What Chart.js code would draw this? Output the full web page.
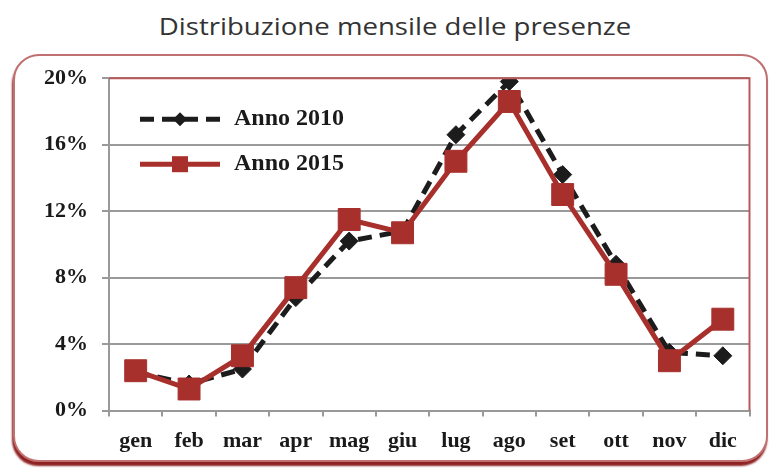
<!doctype html>
<html lang="it">
  <head>
    <title>Distribuzione mensile delle presenze</title>
    <style>
      body{
        margin: 0;
        background: #fff;
        width: 774px;
        height: 474px;
        overflow: hidden;
      }
      #titolo{
        position: absolute;
        left: 0;
        top: 9px;
        width: 790px;
        text-align: center;
        font-family: "Open Sans", sans-serif;
        font-size: 24px;
        color: #333;
        transform: scaleX(1.15);
        transform-origin: 395px 0;
      }
      #box{
        position: absolute;
        left: 13px;
        top: 54px;
        width: 751px;
        height: 404px;
        border: 2px solid #c07070;
        border-radius: 26px;
        box-shadow: -1px 4px 2px #8e2222;
        background: #fff;
      }
      #box canvas{
        display: block;
        position: absolute;
        left: 0;
        top: -5px;
      }
    </style>
  </head>
  <body>
    <div id="titolo">Distribuzione mensile delle presenze</div>
    <div id="box"><canvas id="grafico" width="751" height="417"></canvas></div>
  <script src="https://cdn.jsdelivr.net/npm/chart.js"></script>
<script>
  const mesi = ["gen", "feb", "mar", "apr", "mag", "giu", "lug", "ago", "set", "ott", "nov", "dic"];
  const anno2010 = [2.3, 1.6, 2.5, 6.8, 10.2, 10.8, 16.6, 19.8, 14.2, 8.8, 3.5, 3.3];
  const anno2015 = [2.4, 1.3, 3.3, 7.4, 11.5, 10.7, 15.0, 18.6, 13.0, 8.2, 3.0, 5.5];
  const etichette = ["Anno 2010", "Anno 2015"];

  const rosso = '#a8302c';
  const nero = '#1c1c1c';
  const serif = '"Liberation Serif", "Times New Roman", serif';

  // legend inside the plot + red border on top/right of the plot area
  const legendaInterna = {
    id: 'legendaInterna',
    afterDraw(chart) {
      const ctx = chart.ctx;
      const a = chart.chartArea;
      ctx.save();
      ctx.strokeStyle = '#b85a5a';
      ctx.lineWidth = 2;
      ctx.beginPath();
      ctx.moveTo(a.left, a.top);
      ctx.lineTo(a.right, a.top);
      ctx.lineTo(a.right, a.bottom);
      ctx.stroke();

      const x0 = a.left + 31, x1 = a.left + 111;
      const righe = [a.top + 41, a.top + 86];
      // 2010
      ctx.strokeStyle = nero;
      ctx.lineWidth = 5;
      ctx.setLineDash([14, 8]);
      ctx.beginPath();
      ctx.moveTo(x0, righe[0]);
      ctx.lineTo(x1, righe[0]);
      ctx.stroke();
      ctx.setLineDash([]);
      ctx.fillStyle = nero;
      const cx = (x0 + x1) / 2;
      ctx.beginPath();
      ctx.moveTo(cx, righe[0] - 7);
      ctx.lineTo(cx + 7, righe[0]);
      ctx.lineTo(cx, righe[0] + 7);
      ctx.lineTo(cx - 7, righe[0]);
      ctx.closePath();
      ctx.fill();
      // 2015
      ctx.strokeStyle = rosso;
      ctx.lineWidth = 5;
      ctx.beginPath();
      ctx.moveTo(x0, righe[1]);
      ctx.lineTo(x1, righe[1]);
      ctx.stroke();
      ctx.fillStyle = rosso;
      ctx.fillRect(cx - 8, righe[1] - 8, 16, 16);

      ctx.fillStyle = '#1a1a1a';
      ctx.font = 'bold 24px ' + serif;
      ctx.textBaseline = 'middle';
      ctx.fillText(etichette[0], x1 + 14, righe[0]);
      ctx.fillText(etichette[1], x1 + 14, righe[1]);
      ctx.restore();
    }
  };

  var grafico = new Chart(
    document.getElementById('grafico'),
    {
      type: 'line',
      data: {
        labels: mesi,
        datasets: [
          {
            label: etichette[1],
            data: anno2015,
            borderColor: rosso,
            backgroundColor: rosso,
            borderWidth: 5,
            pointStyle: 'rect',
            pointRadius: 15.5,
            pointBorderWidth: 1,
            tension: 0
          },
          {
            label: etichette[0],
            data: anno2010,
            borderColor: nero,
            backgroundColor: nero,
            borderWidth: 5,
            borderDash: [14, 8],
            pointStyle: 'rectRot',
            pointRadius: 9,
            pointBorderWidth: 1,
            tension: 0
          }
        ]
      },
      options: {
        responsive: false,
        animation: false,
        layout: {
          padding: {left: 15, right: 9, top: 9, bottom: 1}
        },
        scales: {
          x: {
            offset: true,
            grid: {
              offset: true,
              drawOnChartArea: false,
              tickLength: 6,
              color: '#999',
              lineWidth: 2
            },
            border: {color: '#999', width: 2},
            ticks: {
              color: '#1a1a1a',
              font: {family: serif, size: 22, weight: 'bold'},
              padding: 12
            }
          },
          y: {
            min: 0,
            max: 20,
            grid: {
              color: '#9a9a9a',
              lineWidth: 2,
              tickLength: 7
            },
            border: {color: '#999', width: 2},
            ticks: {
              stepSize: 4,
              color: '#1a1a1a',
              font: {family: serif, size: 22, weight: 'bold'},
              padding: 14,
              callback: function(v) { return v + '%'; }
            }
          }
        },
        plugins: {
          legend: {display: false},
          tooltip: {enabled: false}
        }
      },
      plugins: [legendaInterna]
    }
  );
</script>
  </body>
</html>
